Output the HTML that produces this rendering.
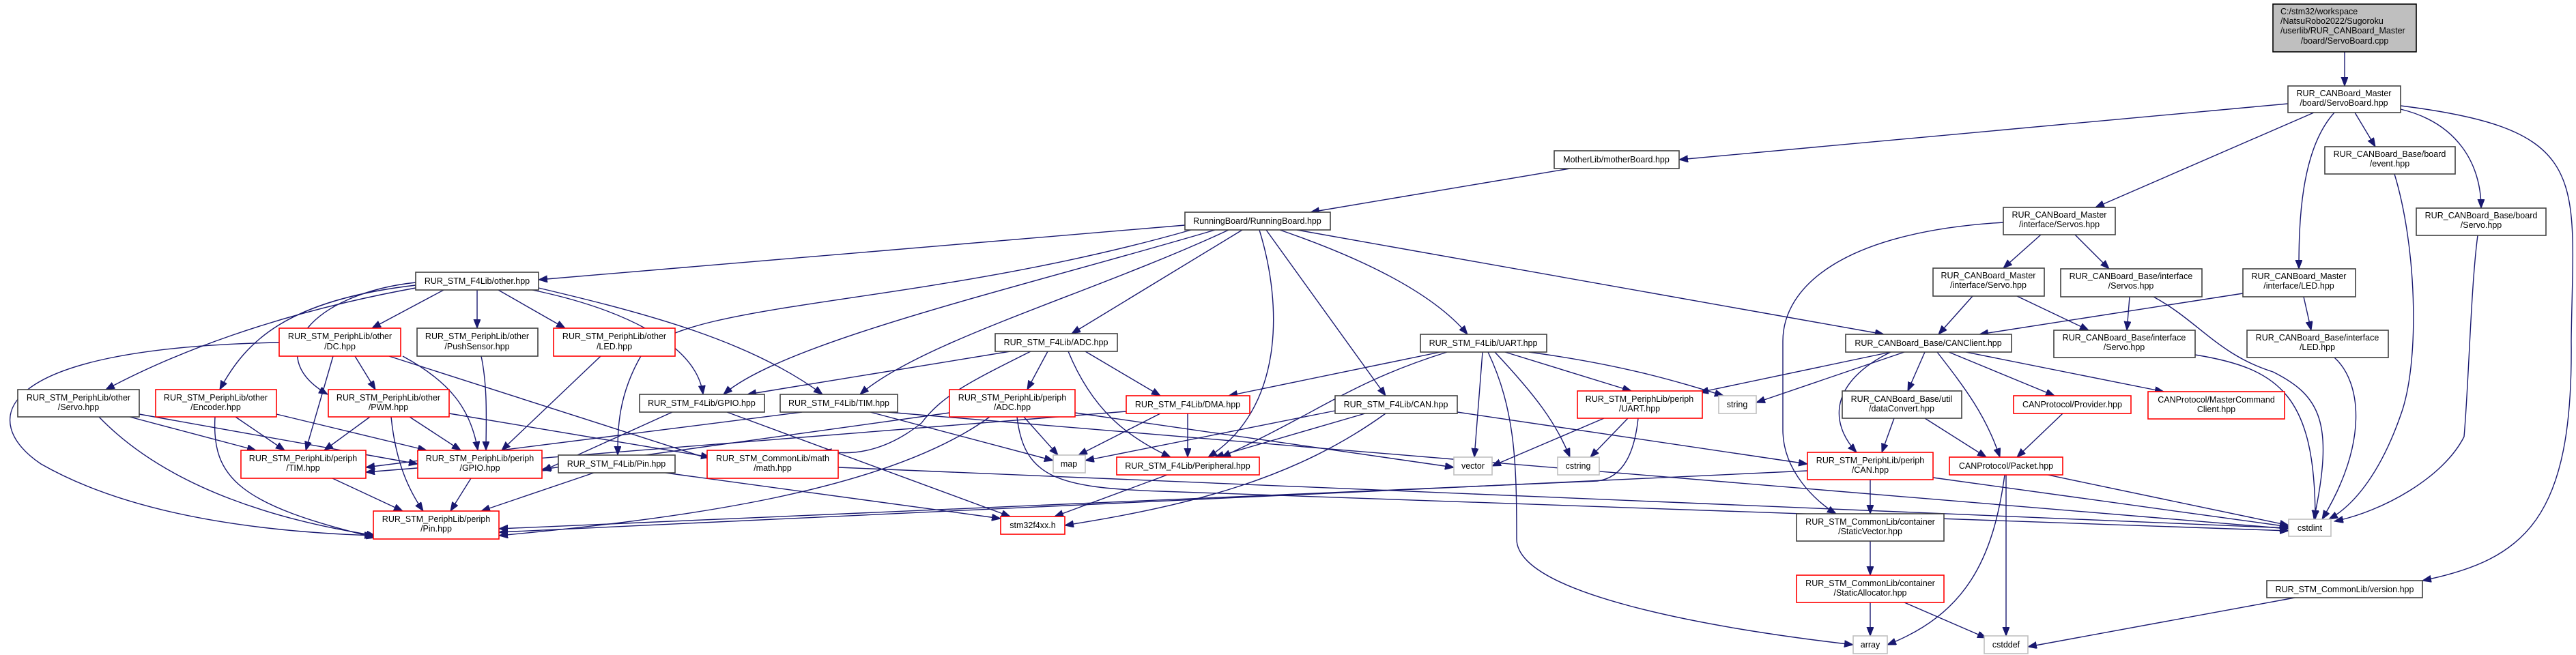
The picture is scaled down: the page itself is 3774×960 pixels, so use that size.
<!DOCTYPE html>
<html><head><meta charset="utf-8"><style>
html,body{margin:0;padding:0;background:#fff;}
svg{display:block;}
text{font-family:"Liberation Sans",Arial,sans-serif;font-size:12.5px;fill:#000;}
.n rect{fill:#fff;stroke:#404040;stroke-width:1.6;}
.r rect{fill:#fff;stroke:#ff0000;stroke-width:1.6;}
.g rect{fill:#fff;stroke:#bfbfbf;stroke-width:1.6;}
.e path{fill:none;stroke:#191970;stroke-width:1.4;marker-end:url(#a);}
</style></head><body>
<svg width="3774" height="960" viewBox="0 0 3774 960" xmlns="http://www.w3.org/2000/svg">
<defs><marker id="a" markerUnits="userSpaceOnUse" markerWidth="14" markerHeight="12" refX="13" refY="5" orient="auto"><path d="M0,0 L13,5 L0,10 z" fill="#191970" stroke="#191970"/></marker></defs>
<g class="e">
<path d="M3435,76 L3435,126"/>
<path d="M3352,152 L2460,234"/>
<path d="M3390,165 L3070,304"/>
<path d="M3420,165 C3370,220 3368,330 3368,394"/>
<path d="M3450,165 L3480,215"/>
<path d="M3517,160 C3600,180 3635,240 3635,305"/>
<path d="M3517,155 C3800,190 3770,260 3767,500 C3770,760 3700,820 3549,851"/>
<path d="M2300,247 L1920,311"/>
<path d="M1736,330 L789,410"/>
<path d="M1780,337 C1500,420 1150,500 1060,578"/>
<path d="M1800,337 C1600,430 1350,500 1260,578"/>
<path d="M1820,337 L1570,489"/>
<path d="M1745,337 C1350,450 1000,440 940,520 C905,580 905,630 905,667"/>
<path d="M1845,337 C1880,450 1880,600 1770,670"/>
<path d="M1855,337 L2030,580"/>
<path d="M1875,337 C2000,380 2100,430 2150,490"/>
<path d="M1900,337 L2760,490"/>
<path d="M2990,344 L2935,393"/>
<path d="M3040,344 L3090,394"/>
<path d="M2935,326 C2700,340 2612,420 2612,500 L2612,630 C2612,690 2660,735 2690,753"/>
<path d="M2890,434 L2840,490"/>
<path d="M2955,434 L3060,484"/>
<path d="M3120,435 L3116,484"/>
<path d="M3155,435 C3220,470 3250,520 3330,545 C3400,580 3420,620 3390,761"/>
<path d="M3286,430 L2900,490"/>
<path d="M3375,435 L3386,484"/>
<path d="M3216,520 C3340,540 3392,580 3392,761"/>
<path d="M3420,524 C3460,560 3470,650 3402,761"/>
<path d="M3508,255 C3540,360 3545,520 3520,600 C3490,690 3450,740 3412,761"/>
<path d="M3630,345 C3620,420 3617,560 3610,640 C3580,700 3490,750 3420,764"/>
<path d="M3362,876 L2971,948"/>
<path d="M650,425 L545,481"/>
<path d="M699,425 L699,481"/>
<path d="M730,425 L828,481"/>
<path d="M609,422 C400,460 250,520 155,571"/>
<path d="M609,418 C420,440 360,500 322,571"/>
<path d="M609,414 C460,430 380,520 480,578"/>
<path d="M780,425 C900,450 1020,500 1030,578"/>
<path d="M789,422 C950,460 1100,500 1205,578"/>
<path d="M488,522 L448,660"/>
<path d="M520,522 L550,571"/>
<path d="M590,522 C660,560 690,600 700,660"/>
<path d="M570,522 L1050,676"/>
<path d="M409,502 C-20,510 -30,620 60,680 C200,760 400,780 547,785"/>
<path d="M705,522 C715,570 712,620 712,660"/>
<path d="M880,522 L735,660"/>
<path d="M190,611 L375,660"/>
<path d="M204,607 L612,680"/>
<path d="M145,611 C250,720 420,765 550,785"/>
<path d="M345,611 L417,660"/>
<path d="M405,607 L625,660"/>
<path d="M315,611 C310,700 350,740 550,788"/>
<path d="M542,611 L475,660"/>
<path d="M600,611 L675,660"/>
<path d="M573,611 C580,680 600,720 620,749"/>
<path d="M658,606 L1040,670"/>
<path d="M985,604 L795,690"/>
<path d="M1065,604 L1480,757"/>
<path d="M1175,604 L536,685"/>
<path d="M1275,604 L1543,675"/>
<path d="M1300,604 L3353,775"/>
<path d="M1480,515 L1095,578"/>
<path d="M1535,515 L1505,571"/>
<path d="M1590,515 L1700,580"/>
<path d="M1565,515 C1600,600 1650,640 1715,670"/>
<path d="M1510,515 C1420,560 1380,580 1350,620 C1300,660 1250,670 1205,660"/>
<path d="M1391,605 L794,688"/>
<path d="M1500,611 L1550,667"/>
<path d="M1450,611 C1300,720 1000,760 731,785"/>
<path d="M1575,605 L2130,685"/>
<path d="M1490,611 C1500,700 1550,715 1700,720 L3353,778"/>
<path d="M1740,606 L1740,670"/>
<path d="M1700,606 L1580,667"/>
<path d="M1650,603 L536,692"/>
<path d="M2000,606 L1780,670"/>
<path d="M1956,602 L1590,675"/>
<path d="M2030,606 C1900,700 1750,740 1560,770"/>
<path d="M2135,604 L2648,680"/>
<path d="M2110,516 L1800,580"/>
<path d="M2120,516 C1980,560 1940,600 1790,670"/>
<path d="M2172,516 L2160,670"/>
<path d="M2190,516 C2250,580 2280,620 2300,670"/>
<path d="M2205,516 L2390,573"/>
<path d="M2240,516 C2380,535 2460,560 2525,580"/>
<path d="M2180,516 C2220,600 2222,680 2222,790 C2222,870 2500,920 2715,945"/>
<path d="M2350,613 L2186,683"/>
<path d="M2385,613 L2330,670"/>
<path d="M2400,613 C2395,660 2380,700 2340,705 L731,775"/>
<path d="M2770,516 L2490,575"/>
<path d="M2790,516 L2573,590"/>
<path d="M2820,516 L2795,573"/>
<path d="M2770,516 C2680,560 2680,620 2720,663"/>
<path d="M2838,516 C2880,570 2910,610 2930,670"/>
<path d="M2855,516 L3010,580"/>
<path d="M2880,516 L3170,574"/>
<path d="M2775,613 L2757,663"/>
<path d="M2820,613 L2910,670"/>
<path d="M3022,606 L2955,670"/>
<path d="M2740,703 L2740,753"/>
<path d="M2648,690 L731,780"/>
<path d="M2832,700 L3353,772"/>
<path d="M3000,696 L3353,770"/>
<path d="M2937,696 C2920,820 2880,900 2765,945"/>
<path d="M2939,696 L2939,932"/>
<path d="M2740,793 L2740,843"/>
<path d="M2740,883 L2740,932"/>
<path d="M2790,883 L2910,935"/>
<path d="M1710,696 L1545,757"/>
<path d="M487,701 L590,749"/>
<path d="M690,701 L660,749"/>
<path d="M870,693 L705,749"/>
<path d="M975,693 L1466,760"/>
<path d="M1228,685 L3353,774"/>
</g>
<g>
<rect x="3330" y="6" width="210" height="70" fill="#bfbfbf" stroke="#000" stroke-width="1.6"/>
<text x="3341" y="21" font-size="11.5">C:/stm32/workspace</text>
<text x="3341" y="35" font-size="11.5">/NatsuRobo2022/Sugoroku</text>
<text x="3341" y="49" font-size="11.5">/userlib/RUR_CANBoard_Master</text>
<text x="3435" y="64" font-size="11.5" text-anchor="middle">/board/ServoBoard.cpp</text>
</g>
<g text-anchor="middle">
<g class="n"><rect x="3352" y="126" width="165" height="39"/><text x="3434" y="141">RUR_CANBoard_Master</text><text x="3434" y="155">/board/ServoBoard.hpp</text></g>
<g class="n"><rect x="2277" y="221" width="183" height="26"/><text x="2368" y="238">MotherLib/motherBoard.hpp</text></g>
<g class="n"><rect x="3406" y="215" width="191" height="40"/><text x="3501" y="230">RUR_CANBoard_Base/board</text><text x="3501" y="244">/event.hpp</text></g>
<g class="n"><rect x="3540" y="305" width="190" height="40"/><text x="3635" y="320">RUR_CANBoard_Base/board</text><text x="3635" y="334">/Servo.hpp</text></g>
<g class="n"><rect x="1736" y="311" width="213" height="26"/><text x="1842" y="328">RunningBoard/RunningBoard.hpp</text></g>
<g class="n"><rect x="2935" y="304" width="164" height="40"/><text x="3017" y="319">RUR_CANBoard_Master</text><text x="3017" y="333">/interface/Servos.hpp</text></g>
<g class="n"><rect x="609" y="399" width="180" height="26"/><text x="699" y="416">RUR_STM_F4Lib/other.hpp</text></g>
<g class="n"><rect x="2832" y="393" width="163" height="41"/><text x="2913" y="408">RUR_CANBoard_Master</text><text x="2913" y="422">/interface/Servo.hpp</text></g>
<g class="n"><rect x="3019" y="394" width="207" height="41"/><text x="3122" y="409">RUR_CANBoard_Base/interface</text><text x="3122" y="423">/Servos.hpp</text></g>
<g class="n"><rect x="3286" y="394" width="165" height="41"/><text x="3368" y="409">RUR_CANBoard_Master</text><text x="3368" y="423">/interface/LED.hpp</text></g>
<g class="r"><rect x="409" y="481" width="178" height="41"/><text x="498" y="497">RUR_STM_PeriphLib/other</text><text x="498" y="512">/DC.hpp</text></g>
<g class="n"><rect x="611" y="481" width="177" height="41"/><text x="699" y="497">RUR_STM_PeriphLib/other</text><text x="699" y="512">/PushSensor.hpp</text></g>
<g class="r"><rect x="811" y="481" width="178" height="41"/><text x="900" y="497">RUR_STM_PeriphLib/other</text><text x="900" y="512">/LED.hpp</text></g>
<g class="n"><rect x="1458" y="489" width="179" height="26"/><text x="1547" y="506">RUR_STM_F4Lib/ADC.hpp</text></g>
<g class="n"><rect x="2081" y="490" width="185" height="26"/><text x="2173" y="507">RUR_STM_F4Lib/UART.hpp</text></g>
<g class="n"><rect x="2704" y="490" width="243" height="26"/><text x="2825" y="507">RUR_CANBoard_Base/CANClient.hpp</text></g>
<g class="n"><rect x="3009" y="484" width="207" height="40"/><text x="3112" y="499">RUR_CANBoard_Base/interface</text><text x="3112" y="513">/Servo.hpp</text></g>
<g class="n"><rect x="3292" y="484" width="207" height="40"/><text x="3395" y="499">RUR_CANBoard_Base/interface</text><text x="3395" y="513">/LED.hpp</text></g>
<g class="n"><rect x="26" y="571" width="178" height="40"/><text x="115" y="587">RUR_STM_PeriphLib/other</text><text x="115" y="601">/Servo.hpp</text></g>
<g class="r"><rect x="228" y="571" width="177" height="40"/><text x="316" y="587">RUR_STM_PeriphLib/other</text><text x="316" y="601">/Encoder.hpp</text></g>
<g class="r"><rect x="481" y="571" width="177" height="40"/><text x="569" y="587">RUR_STM_PeriphLib/other</text><text x="569" y="601">/PWM.hpp</text></g>
<g class="n"><rect x="937" y="578" width="183" height="26"/><text x="1028" y="595">RUR_STM_F4Lib/GPIO.hpp</text></g>
<g class="n"><rect x="1143" y="578" width="172" height="26"/><text x="1229" y="595">RUR_STM_F4Lib/TIM.hpp</text></g>
<g class="r"><rect x="1391" y="571" width="184" height="40"/><text x="1483" y="587">RUR_STM_PeriphLib/periph</text><text x="1483" y="601">/ADC.hpp</text></g>
<g class="r"><rect x="1650" y="580" width="181" height="26"/><text x="1740" y="597">RUR_STM_F4Lib/DMA.hpp</text></g>
<g class="n"><rect x="1956" y="580" width="179" height="26"/><text x="2045" y="597">RUR_STM_F4Lib/CAN.hpp</text></g>
<g class="r"><rect x="2311" y="573" width="183" height="40"/><text x="2402" y="589">RUR_STM_PeriphLib/periph</text><text x="2402" y="603">/UART.hpp</text></g>
<g class="g"><rect x="2518" y="580" width="55" height="26"/><text x="2545" y="597">string</text></g>
<g class="n"><rect x="2699" y="573" width="175" height="40"/><text x="2786" y="589">RUR_CANBoard_Base/util</text><text x="2786" y="603">/dataConvert.hpp</text></g>
<g class="r"><rect x="2950" y="580" width="172" height="26"/><text x="3036" y="597">CANProtocol/Provider.hpp</text></g>
<g class="r"><rect x="3147" y="574" width="200" height="40"/><text x="3247" y="590">CANProtocol/MasterCommand</text><text x="3247" y="604">Client.hpp</text></g>
<g class="r"><rect x="353" y="660" width="183" height="41"/><text x="444" y="676">RUR_STM_PeriphLib/periph</text><text x="444" y="690">/TIM.hpp</text></g>
<g class="r"><rect x="612" y="660" width="182" height="41"/><text x="703" y="676">RUR_STM_PeriphLib/periph</text><text x="703" y="690">/GPIO.hpp</text></g>
<g class="n"><rect x="818" y="667" width="171" height="26"/><text x="903" y="684">RUR_STM_F4Lib/Pin.hpp</text></g>
<g class="r"><rect x="1036" y="660" width="192" height="41"/><text x="1132" y="676">RUR_STM_CommonLib/math</text><text x="1132" y="690">/math.hpp</text></g>
<g class="g"><rect x="1543" y="667" width="47" height="26"/><text x="1566" y="684">map</text></g>
<g class="r"><rect x="1636" y="670" width="209" height="26"/><text x="1740" y="687">RUR_STM_F4Lib/Peripheral.hpp</text></g>
<g class="g"><rect x="2130" y="670" width="56" height="26"/><text x="2158" y="687">vector</text></g>
<g class="g"><rect x="2282" y="670" width="61" height="26"/><text x="2312" y="687">cstring</text></g>
<g class="r"><rect x="2648" y="663" width="184" height="40"/><text x="2740" y="679">RUR_STM_PeriphLib/periph</text><text x="2740" y="693">/CAN.hpp</text></g>
<g class="r"><rect x="2856" y="670" width="166" height="26"/><text x="2939" y="687">CANProtocol/Packet.hpp</text></g>
<g class="g"><rect x="3353" y="761" width="62" height="25"/><text x="3384" y="778">cstdint</text></g>
<g class="r"><rect x="547" y="749" width="184" height="41"/><text x="639" y="765">RUR_STM_PeriphLib/periph</text><text x="639" y="779">/Pin.hpp</text></g>
<g class="r"><rect x="1466" y="757" width="94" height="26"/><text x="1513" y="774">stm32f4xx.h</text></g>
<g class="n"><rect x="2632" y="753" width="216" height="40"/><text x="2740" y="769">RUR_STM_CommonLib/container</text><text x="2740" y="783">/StaticVector.hpp</text></g>
<g class="n"><rect x="3321" y="851" width="228" height="25"/><text x="3435" y="868">RUR_STM_CommonLib/version.hpp</text></g>
<g class="r"><rect x="2632" y="843" width="216" height="40"/><text x="2740" y="859">RUR_STM_CommonLib/container</text><text x="2740" y="873">/StaticAllocator.hpp</text></g>
<g class="g"><rect x="2715" y="932" width="50" height="26"/><text x="2740" y="949">array</text></g>
<g class="g"><rect x="2907" y="932" width="64" height="26"/><text x="2939" y="949">cstddef</text></g>
</g>
</svg>
</body></html>
